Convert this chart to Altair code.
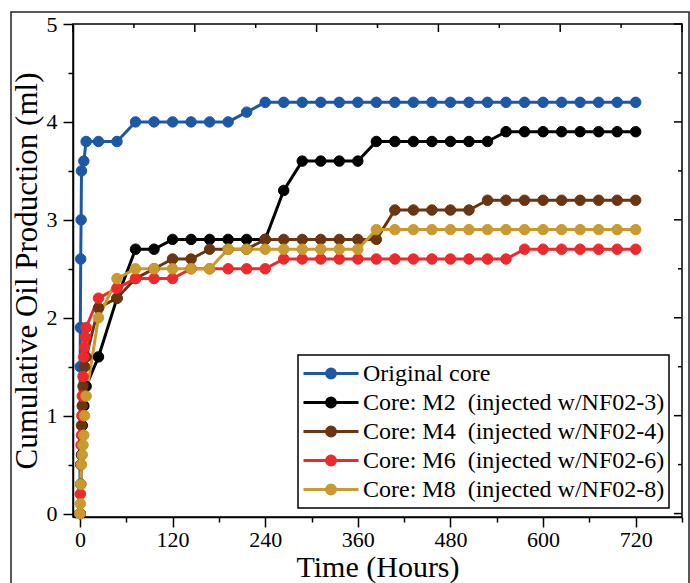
import altair as alt
import pandas as pd

# ---- data -----------------------------------------------------------------
series_names = [
    "Original core",
    "Core: M2\u00a0 (injected w/NF02-3)",
    "Core: M4\u00a0 (injected w/NF02-4)",
    "Core: M6\u00a0 (injected w/NF02-6)",
    "Core: M8\u00a0 (injected w/NF02-8)",
]
series_colors = ["#1d58a7", "#000000", "#6b3511", "#ec2a2b", "#c99a2e"]

daily_hours = [24, 48, 72, 96, 120, 144, 168, 192, 216, 240, 264, 288, 312, 336,
               360, 384, 408, 432, 456, 480, 504, 528, 552, 576, 600, 624, 648,
               672, 696, 720]

orig_t = [0, 0.25, 0.5, 1, 1.5, 2, 5, 8] + daily_hours
orig_v = [0, 1.5, 1.9, 2.6, 3.0, 3.5, 3.6, 3.8,
          3.8, 3.8, 4.0, 4.0, 4.0, 4.0, 4.0, 4.0, 4.1, 4.2, 4.2, 4.2, 4.2, 4.2,
          4.2, 4.2, 4.2, 4.2, 4.2, 4.2, 4.2, 4.2, 4.2, 4.2, 4.2, 4.2, 4.2, 4.2,
          4.2, 4.2]

m2_t = [0, 1, 2, 3, 5, 8] + daily_hours
m2_v = [0, 0.3, 0.6, 0.9, 1.1, 1.3,
        1.6, 2.2, 2.7, 2.7, 2.8, 2.8, 2.8, 2.8, 2.8, 2.8, 3.3, 3.6, 3.6, 3.6,
        3.6, 3.8, 3.8, 3.8, 3.8, 3.8, 3.8, 3.8, 3.9, 3.9, 3.9, 3.9, 3.9, 3.9,
        3.9, 3.9]

m4_t = [0, 1, 2, 3, 4, 6, 8] + daily_hours
m4_v = [0, 0.5, 0.9, 1.1, 1.3, 1.5, 1.6,
        2.1, 2.2, 2.4, 2.5, 2.6, 2.6, 2.7, 2.7, 2.7, 2.8, 2.8, 2.8, 2.8, 2.8,
        2.8, 2.8, 3.1, 3.1, 3.1, 3.1, 3.1, 3.2, 3.2, 3.2, 3.2, 3.2, 3.2, 3.2,
        3.2, 3.2]

m6_t = [0, 0.5, 1, 1.5, 2, 2.5, 3, 4, 5, 6, 7, 8] + daily_hours
m6_v = [0, 0.2, 0.5, 0.7, 0.8, 1.0, 1.2, 1.4, 1.6, 1.7, 1.8, 1.9,
        2.2, 2.3, 2.4, 2.4, 2.4, 2.5, 2.5, 2.5, 2.5, 2.5, 2.6, 2.6, 2.6, 2.6,
        2.6, 2.6, 2.6, 2.6, 2.6, 2.6, 2.6, 2.6, 2.6, 2.7, 2.7, 2.7, 2.7, 2.7,
        2.7, 2.7]

m8_t = [0, 0.5, 1, 2, 3, 4, 5, 6, 8] + daily_hours
m8_v = [0, 0.1, 0.3, 0.5, 0.6, 0.7, 0.8, 1.0, 1.2,
        2.0, 2.4, 2.5, 2.5, 2.5, 2.5, 2.5, 2.7, 2.7, 2.7, 2.7, 2.7, 2.7, 2.7,
        2.7, 2.9, 2.9, 2.9, 2.9, 2.9, 2.9, 2.9, 2.9, 2.9, 2.9, 2.9, 2.9, 2.9,
        2.9, 2.9]

x_ticks = [0, 60, 120, 180, 240, 300, 360, 420, 480, 540, 600, 660, 720, 780]
y_ticks = [0, 0.5, 1, 1.5, 2, 2.5, 3, 3.5, 4, 4.5, 5]
top_ticks = [0, 1, 2, 3, 4, 5, 6, 7, 8, 9, 10]   # top edge: 10 equal steps

rows = []
for name, ts, vs in zip(series_names,
                        [orig_t, m2_t, m4_t, m6_t, m8_t],
                        [orig_v, m2_v, m4_v, m6_v, m8_v]):
    for t, v in zip(ts, vs):
        rows.append({"series": name, "hours": t, "oil": v})
df = pd.DataFrame(rows)
df["order"] = df["series"].map({n: i for i, n in enumerate(series_names)})

# ---- layout ---------------------------------------------------------------
W, H = 609, 493
SERIF = "Liberation Serif"
OUT_MAJOR, OUT_MINOR = 10, 5     # outward ticks (left / bottom)
IN_MAJOR, IN_MINOR = 8, 4        # inward ticks (right / top)
X_LO, X_HI = -9, 780

x_scale = alt.Scale(domain=[X_LO, X_HI], nice=False, zero=False)
y_scale = alt.Scale(domain=[-0.035, 5], nice=False, zero=False)
color_scale = alt.Scale(domain=series_names, range=series_colors)

x_axis = alt.Axis(
    values=x_ticks, title="Time (Hours)", grid=False, orient="bottom",
    labelExpr="datum.value % 120 === 0 && datum.value <= 720 ? '' + datum.value : ''",
    tickSize={"condition": {"test": "datum.value % 120 === 0", "value": OUT_MAJOR},
              "value": OUT_MINOR},
    tickColor="black", tickWidth=1.5, domainColor="black", domainWidth=1.5,
    labelFont=SERIF, labelFontSize=22, labelColor="black", labelPadding=2,
    labelOverlap=False, labelFlush=False,
    titleFont=SERIF, titleFontSize=30, titleFontWeight="normal",
    titleColor="black", titlePadding=2,
)
y_axis = alt.Axis(
    values=y_ticks, title="Cumulative Oil Production (ml)", grid=False, orient="left",
    labelExpr="datum.value % 1 === 0 ? '' + datum.value : ''",
    tickSize={"condition": {"test": "datum.value % 1 === 0", "value": OUT_MAJOR},
              "value": OUT_MINOR},
    tickColor="black", tickWidth=1.5, domainColor="black", domainWidth=1.5,
    labelFont=SERIF, labelFontSize=22, labelColor="black", labelPadding=6,
    labelOverlap=False, labelFlush=False,
    titleFont=SERIF, titleFontSize=31, titleFontWeight="normal",
    titleColor="black", titlePadding=3,
)

# legend symbol: a short line with a dot in the middle
symbol_path = ("M-1,0H1M-0.16,0A0.16,0.16,0,1,1,0.16,0"
               "A0.16,0.16,0,1,1,-0.16,0Z")
legend = alt.Legend(
    title=None, orient="none", legendX=225, legendY=331,
    symbolType=symbol_path, symbolSize=3025, symbolStrokeWidth=3,
    labelFont=SERIF, labelFontSize=24, labelColor="black", labelLimit=500,
    labelOffset=3, clipHeight=29, rowPadding=0, padding=4,
    strokeColor="black", fillColor="white", cornerRadius=0,
)

x_enc = alt.X("hours:Q", scale=x_scale, axis=x_axis)
y_enc = alt.Y("oil:Q", scale=y_scale, axis=y_axis)

# one connecting line per core, drawn in legend order
line_layers = [
    alt.Chart(df).transform_filter(alt.datum.series == name)
    .mark_line(strokeWidth=3, color=col)
    .encode(x=x_enc, y=y_enc, order=alt.Order("hours:Q"))
    for name, col in zip(series_names, series_colors)
]
points = alt.Chart(df).mark_point(filled=True, size=110, opacity=1, strokeWidth=1).encode(
    x=x_enc, y=y_enc,
    fill=alt.Fill("series:N", scale=color_scale, legend=legend),
    stroke=alt.Stroke("series:N", scale=color_scale, legend=legend),
    order=alt.Order("order:Q"),
)

# inward ticks along the right edge of the frame
ytick_df = pd.DataFrame({"oil": y_ticks})
right_major = alt.Chart(ytick_df).transform_filter("datum.oil % 1 === 0").mark_rule(
    color="black", strokeWidth=1.5
).encode(y=y_enc, x=alt.value(W), x2=alt.value(W - IN_MAJOR))
right_minor = alt.Chart(ytick_df).transform_filter("datum.oil % 1 !== 0").mark_rule(
    color="black", strokeWidth=1.5
).encode(y=y_enc, x=alt.value(W), x2=alt.value(W - IN_MINOR))

# inward ticks along the top edge: ten equal steps across the frame
ttick_df = pd.DataFrame({"k": top_ticks})
top_base = alt.Chart(ttick_df).transform_calculate(
    hours=f"{X_LO} + datum.k * {(X_HI - X_LO) / 10}"
)
top_major = top_base.transform_filter("datum.k % 2 === 0").mark_rule(
    color="black", strokeWidth=1.5
).encode(x=x_enc, y=alt.value(0), y2=alt.value(IN_MAJOR))
top_minor = top_base.transform_filter("datum.k % 2 !== 0").mark_rule(
    color="black", strokeWidth=1.5
).encode(x=x_enc, y=alt.value(0), y2=alt.value(IN_MINOR))

# thin border around the whole figure
border = alt.Chart(pd.DataFrame({"k": [0]})).mark_rect(
    fill=None, stroke="#222222", strokeWidth=1.5
).encode(
    x=alt.value(-62), x2=alt.value(616), y=alt.value(-12), y2=alt.value(H + 70)
)

chart = alt.layer(
    border, *line_layers, points, right_major, right_minor, top_major, top_minor
).properties(
    width=W, height=H,
    padding={"left": 73, "top": 24, "right": 8, "bottom": 66},
    autosize=alt.AutoSizeParams(type="none"),
    background="white",
).configure(font=SERIF).configure_view(
    stroke="black", strokeWidth=1.5
).configure_legend(strokeWidth=1.5)

chart.save("out.html", embed_options={"renderer": "svg", "actions": False})
